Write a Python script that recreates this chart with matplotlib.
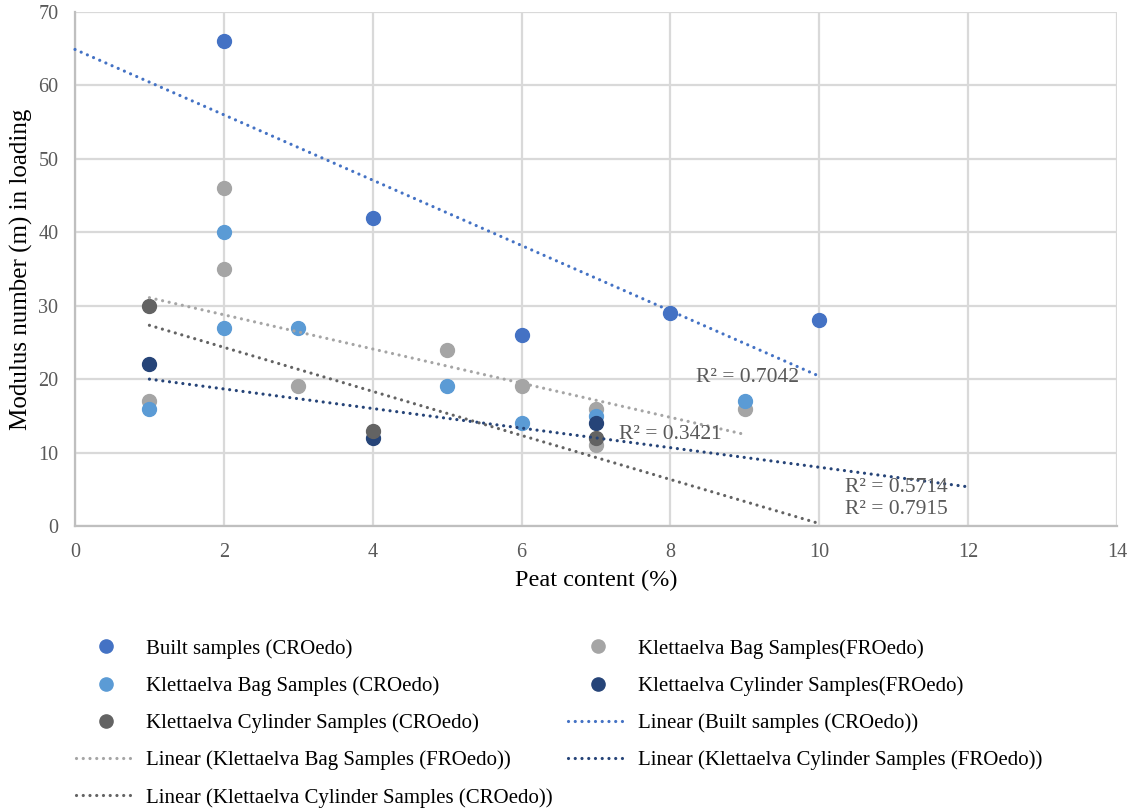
import numpy as np
import matplotlib.pyplot as plt
from matplotlib.lines import Line2D

plt.rcParams['font.family'] = ['Liberation Serif', 'DejaVu Serif']

# Data
built_x = [2, 4, 6, 8, 10]
built_y = [66, 42, 26, 29, 28]

bag_fro_x = [1, 2, 2, 3, 5, 6, 7, 7, 9]
bag_fro_y = [17, 46, 35, 19, 24, 19, 16, 11, 16]

bag_cro_x = [1, 2, 2, 3, 5, 6, 7, 9]
bag_cro_y = [16, 40, 27, 27, 19, 14, 15, 17]

cyl_fro_x = [1, 4, 7]
cyl_fro_y = [22, 12, 14]

cyl_cro_x = [1, 4, 7]
cyl_cro_y = [30, 13, 12]

# Excel trendline extents (with forecast)
built_trend = (0, 10)
bag_fro_trend = (1, 9)
cyl_fro_trend = (1, 12)
cyl_cro_trend = (1, 10)

r2_labels = ['R² = 0.7042', 'R² = 0.3421', 'R² = 0.5714', 'R² = 0.7915']
r2_pos = [(9.03, 20.2), (8.0, 12.4), (11.03, 5.3), (11.03, 2.2)]

c_built = '#4472C4'
c_bag_cro = '#5B9BD5'
c_bag_fro = '#A5A5A5'
c_cyl_fro = '#264478'
c_cyl_cro = '#636363'

dots = (0, (0.01, 2.1))

fig = plt.figure(figsize=(11.29, 8.09), dpi=100)
ax = fig.add_axes([75/1129, 1-526/809, (1117-75)/1129, (526-12)/809])

ms = 10
ax.plot(built_x, built_y, 'o', color=c_built, ms=ms, zorder=3)
ax.plot(bag_fro_x, bag_fro_y, 'o', color=c_bag_fro, ms=ms, zorder=3)
ax.plot(bag_cro_x, bag_cro_y, 'o', color=c_bag_cro, ms=ms, zorder=3)
ax.plot(cyl_fro_x, cyl_fro_y, 'o', color=c_cyl_fro, ms=ms, zorder=3)
ax.plot(cyl_cro_x, cyl_cro_y, 'o', color=c_cyl_cro, ms=ms, zorder=3)

def trend(x, y, rng, color):
    k, b = np.polyfit(x, y, 1)
    xs = np.array(rng, dtype=float)
    ax.plot(xs, k*xs + b, linestyle=dots, color=color, lw=2.3,
            dash_capstyle='round', zorder=4, clip_on=False)

trend(built_x, built_y, built_trend, c_built)
trend(bag_fro_x, bag_fro_y, bag_fro_trend, c_bag_fro)
trend(cyl_fro_x, cyl_fro_y, cyl_fro_trend, c_cyl_fro)
trend(cyl_cro_x, cyl_cro_y, cyl_cro_trend, c_cyl_cro)

for t, (px, py) in zip(r2_labels, r2_pos):
    ax.text(px, py, t, ha='center', va='center', fontsize=15.5, color='#595959', zorder=5)

ax.set_xlim(0, 14)
ax.set_ylim(0, 70)
ax.set_xticks(range(0, 15, 2))
ax.set_yticks(range(0, 71, 10))
ax.grid(True, color='#D9D9D9', lw=1.6)
ax.set_axisbelow(True)
for s in ['top', 'right']:
    ax.spines[s].set_visible(False)
for s in ['left', 'bottom']:
    ax.spines[s].set_color('#BFBFBF')
    ax.spines[s].set_linewidth(1.6)
ax.tick_params(length=0, labelsize=14.5, colors='#595959')
ax.tick_params(axis='x', pad=12)
ax.tick_params(axis='y', pad=12)
ax.set_xlabel('Peat content (%)', fontsize=17.5, labelpad=6)
ax.set_ylabel('Modulus number (m) in loading', fontsize=18, labelpad=4)

def mk(c):
    return Line2D([], [], marker='o', color=c, linestyle='none', ms=9.5)

def ln(c):
    return Line2D([], [], color=c, linestyle=dots, lw=2.3, dash_capstyle='round')

left_h = [mk(c_built), mk(c_bag_cro), mk(c_cyl_cro), ln(c_bag_fro), ln(c_cyl_cro)]
left_l = ['Built samples (CROedo)',
          'Klettaelva Bag Samples (CROedo)',
          'Klettaelva Cylinder Samples (CROedo)',
          'Linear (Klettaelva Bag Samples (FROedo))',
          'Linear (Klettaelva Cylinder Samples (CROedo))']
right_h = [mk(c_bag_fro), mk(c_cyl_fro), ln(c_built), ln(c_cyl_fro)]
right_l = ['Klettaelva Bag Samples(FROedo)',
           'Klettaelva Cylinder Samples(FROedo)',
           'Linear (Built samples (CROedo))',
           'Linear (Klettaelva Cylinder Samples (FROedo))']

leg_kw = dict(loc='upper left', frameon=False, fontsize=15, handlelength=2.9,
              handletextpad=0.45, labelspacing=0.84, borderaxespad=0, borderpad=0)
fig.legend(left_h, left_l, bbox_to_anchor=(76/1129, 1-639/809), **leg_kw)
fig.legend(right_h, right_l, bbox_to_anchor=(568/1129, 1-639/809), **leg_kw)

fig.savefig('out.png', dpi=100)
